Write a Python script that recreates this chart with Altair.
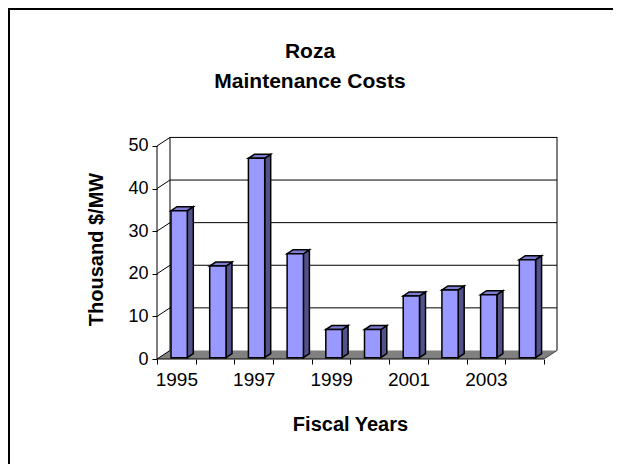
import altair as alt
import pandas as pd

# ---- data ----
years = [1995, 1996, 1997, 1998, 1999, 2000, 2001, 2002, 2003, 2004]
costs = [34.5, 21.5, 46.8, 24.4, 6.6, 6.6, 14.5, 15.9, 14.8, 23.0]
y_ticks = [0, 10, 20, 30, 40, 50]
wall_lines = [10, 20, 30, 40, 50]
x_title = "Fiscal Years"
y_title = "Thousand $/MW"
title_lines = ["Roza", "Maintenance Costs"]

# ---- 3-D geometry (in data units) ----
N = len(years)
XMAX = 10.336          # plot width in category units (incl. depth)
YMAX = 52.1
DX, DY = 0.336, 2.0    # wall depth offset
BX0, BW = 0.362, 0.421 # bar start inside category, bar width
BDX, BDY = 0.155, 0.94 # bar depth
B0 = 0.3               # bar base level on the front face

FONT = "Liberation Sans"
FRONT = "#9999ff"
SIDE = "#52528a"
TOP = "#7c7cd0"

xs = alt.Scale(domain=[0, XMAX], nice=False, zero=False)
ys = alt.Scale(domain=[0, YMAX], nice=False, zero=False)

label_expr = ("(datum.value %% 2 == 0 && datum.value < %d) ? toString(%d + datum.value) : ''"
              % (N, years[0]))

X_AX = alt.Axis(
    values=list(range(N + 1)), labelExpr=label_expr, labelOffset=19.35,
    labelFlush=False, labelOverlap=False, labelBound=False,
    domain=False, grid=False, ticks=True, tickSize=5, tickColor="black",
    labelFont=FONT, labelFontSize=19, labelColor="black", labelPadding=6,
    title=x_title, titleFont=FONT, titleFontSize=20, titleFontWeight="bold",
    titleColor="black", titleX=193, titleY=71, titleBaseline="alphabetic",
    titleAlign="center")
Y_AX = alt.Axis(
    values=y_ticks, domain=False, grid=False, tickSize=5, tickColor="black",
    labelFont=FONT, labelFontSize=18, labelColor="black", labelPadding=4,
    title=y_title, titleFont=FONT, titleFontSize=20, titleFontWeight="bold",
    titleColor="black", titleX=-61, titleY=112, titleAngle=270,
    titleAlign="center", titleBaseline="middle")


def X(field=None, **kw):
    if field is None:
        return alt.X(scale=xs, axis=X_AX, **kw)
    return alt.X(field, scale=xs, axis=X_AX, **kw)


def Y(field=None, **kw):
    if field is None:
        return alt.Y(scale=ys, axis=Y_AX, stack=None, **kw)
    return alt.Y(field, scale=ys, axis=Y_AX, stack=None, **kw)


front = pd.DataFrame({"year": years, "cost": costs, "i": list(range(N))})
front["xl"] = front["i"] + BX0
front["xr"] = front["xl"] + BW
front["yb"] = B0
front["yt"] = B0 + front["cost"]

side_rows, top_rows = [], []
for _, r in front.iterrows():
    b = int(r.i)
    side_rows.append({"b": b, "px": r.xr, "py": r.yb, "py2": r.yt})
    side_rows.append({"b": b, "px": r.xr + BDX, "py": r.yb + BDY, "py2": r.yt + BDY})
    top_rows.append({"b": b, "px": r.xl, "py": r.yt, "py2": r.yt})
    top_rows.append({"b": b, "px": r.xl + BDX, "py": r.yt, "py2": r.yt + BDY})
    top_rows.append({"b": b, "px": r.xr, "py": r.yt, "py2": r.yt + BDY})
    top_rows.append({"b": b, "px": r.xr + BDX, "py": r.yt + BDY, "py2": r.yt + BDY})
side = pd.DataFrame(side_rows)
topf = pd.DataFrame(top_rows)

floor = pd.DataFrame({"px": [0, DX, N, N + DX], "py": [0, 0, 0, DY], "py2": [0, DY, DY, DY]})
grid = pd.DataFrame({"v": [v + DY for v in wall_lines]})
diag = pd.DataFrame({"v": y_ticks, "v2": [v + DY for v in y_ticks]})
edges = pd.DataFrame({"px": [DX, XMAX]})
one = pd.DataFrame({"k": [0]})

floor_l = alt.Chart(floor).mark_area(fill="#808080", opacity=1).encode(
    x=X("px:Q"), y=Y("py:Q"), y2="py2:Q")

grid_l = alt.Chart(grid).mark_rule(color="black", strokeWidth=1).encode(
    x=X(datum=DX), x2=alt.X2(datum=XMAX), y=Y("v:Q"))

diag_l = alt.Chart(diag).mark_rule(color="black", strokeWidth=1).encode(
    x=X(datum=0), x2=alt.X2(datum=DX), y=Y("v:Q"), y2="v2:Q")

edge_l = alt.Chart(edges).mark_rule(color="black", strokeWidth=1).encode(
    x=X("px:Q"), y=Y(datum=DY), y2=alt.Y2(datum=YMAX))

fdiag_l = alt.Chart(one).mark_rule(color="#404040", strokeWidth=1).encode(
    x=X(datum=N), x2=alt.X2(datum=N + DX), y=Y(datum=0), y2=alt.Y2(datum=DY))

xline_l = alt.Chart(one).mark_rule(color="black", strokeWidth=1).encode(
    x=X(datum=0), x2=alt.X2(datum=N), y=Y(datum=0))

yline_l = alt.Chart(one).mark_rule(color="black", strokeWidth=1).encode(
    x=X(datum=0), y=Y(datum=0), y2=alt.Y2(datum=50))

# faces: grouped by bar via detail; points are sorted along x automatically
side_l = alt.Chart(side).mark_area(fill=SIDE, opacity=1, stroke="black", strokeWidth=1.5,
                                   orient="vertical").encode(
    x=X("px:Q"), y=Y("py:Q"), y2="py2:Q", detail="b:N")

top_l = alt.Chart(topf).mark_area(fill=TOP, opacity=1, stroke="black", strokeWidth=1.5,
                                  orient="vertical").encode(
    x=X("px:Q"), y=Y("py:Q"), y2="py2:Q", detail="b:N")

front_l = alt.Chart(front).mark_rect(fill=FRONT, stroke="black", strokeWidth=1.5).encode(
    x=X("xl:Q"), x2="xr:Q", y=Y("yb:Q"), y2="yt:Q")

# chart title as text marks (two centred lines)
title1 = alt.Chart(one).mark_text(font=FONT, fontSize=21, fontWeight="bold", color="black",
                                   align="center", baseline="alphabetic").encode(
    x=alt.value(153), y=alt.value(-79), text=alt.value(title_lines[0]))
title2 = alt.Chart(one).mark_text(font=FONT, fontSize=21, fontWeight="bold", color="black",
                                   align="center", baseline="alphabetic").encode(
    x=alt.value(153), y=alt.value(-49), text=alt.value(title_lines[1]))

# decorative outer frame (top and left edges)
frame_top = alt.Chart(one).mark_rule(color="black", strokeWidth=2).encode(
    x=alt.value(-149), x2=alt.value(456), y=alt.value(-128))
frame_left = alt.Chart(one).mark_rule(color="black", strokeWidth=2).encode(
    x=alt.value(-148), y=alt.value(-128), y2=alt.value(330))

chart = alt.layer(
    floor_l, grid_l, edge_l, diag_l, fdiag_l, xline_l, yline_l,
    side_l, top_l, front_l, title1, title2, frame_top, frame_left
).properties(
    width=400, height=222,
    padding={"left": 149, "top": 129, "right": 56, "bottom": 105},
    autosize=alt.AutoSizeParams(type="none"),
    background="white",
).configure_view(stroke=None)

chart.save("out.html", embed_options={"renderer": "svg", "actions": False})
